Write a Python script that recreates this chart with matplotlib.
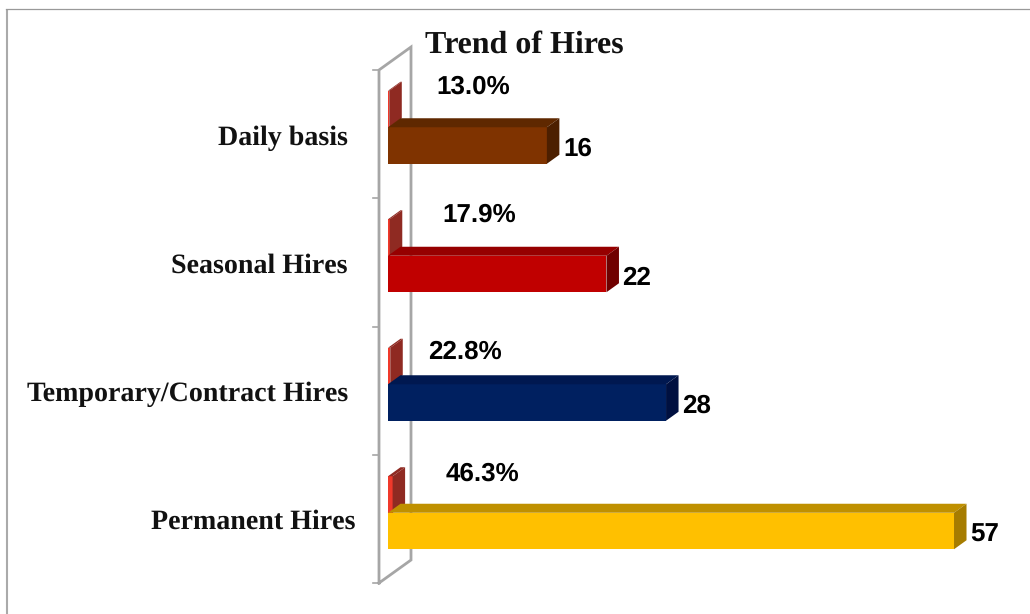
#!/usr/bin/env python3
import matplotlib
matplotlib.use('Agg')
import matplotlib.pyplot as plt
from matplotlib.patches import Polygon
import numpy as np

plt.rcParams['text.hinting'] = 'no_hinting'
plt.rcParams['text.hinting_factor'] = 1

categories = ["Permanent Hires", "Temporary/Contract Hires", "Seasonal Hires", "Daily basis"]
hires = [57, 28, 22, 16]
shares = [46.3, 22.8, 17.9, 13.0]
share_labels = ["46.3%", "22.8%", "17.9%", "13.0%"]

front_colors = ['#ffc000', '#002060', '#c00000', '#7f3300']
top_colors = ['#bf9000', '#001850', '#960000', '#5f2800']
side_colors = ['#a67c00', '#001040', '#700000', '#4c1f00']

# scale of the picture: 9.93 px per hire, 128.5 px between categories
PX_X = 9.93
PX_Y = 128.5
DX = 12.5 / PX_X
DY = 9 / PX_Y
BAR_H = 36.5 / PX_Y
WALL = '#a6a6a6'

fig = plt.figure(figsize=(10.3, 6.14), dpi=100)
ax = fig.add_axes([0, 0, 1, 1])
ax.set_xlim(-388 / PX_X, (1030 - 388) / PX_X)
ax.set_ylim(-(614 - 531) / PX_Y, 531 / PX_Y)
ax.axis('off')

# outer frame, only top and left show
ax.plot([0.0068, 0.0068], [0, 0.985], transform=ax.transAxes, color='#aaaaaa', lw=1.5, solid_capstyle='butt')
ax.plot([0.0055, 1], [0.985, 0.985], transform=ax.transAxes, color='#999999', lw=0.9)

# the 3D wall with its ticks
wall_l, wall_r = -9 / PX_X, 23 / PX_X
wall_low = -52 / PX_Y
wall_high = wall_low + 4 * 128.25 / PX_Y
wall_back = 23 / PX_Y
ax.plot([wall_l, wall_l, wall_r, wall_r, wall_l],
        [wall_low, wall_high, wall_high + wall_back, wall_low + wall_back, wall_low],
        color=WALL, lw=2, solid_joinstyle='miter', zorder=1)
for t in np.linspace(wall_low, wall_high, 5):
    ax.plot([wall_l - 6 / PX_X, wall_l], [t, t], color=WALL, lw=1.2, zorder=1)


def box(x, y, w, front, top, side, z):
    ax.barh(y, w, height=BAR_H, left=x, color=front, zorder=z)
    ax.add_patch(Polygon([(x, y + BAR_H / 2), (x + DX, y + BAR_H / 2 + DY),
                          (x + w + DX, y + BAR_H / 2 + DY), (x + w, y + BAR_H / 2)],
                         closed=True, color=top, lw=0, zorder=z))
    ax.add_patch(Polygon([(x + w, y - BAR_H / 2), (x + w + DX, y - BAR_H / 2 + DY),
                          (x + w + DX, y + BAR_H / 2 + DY), (x + w, y + BAR_H / 2)],
                         closed=True, color=side, lw=0, zorder=z))


pos = np.arange(len(categories))
for i in pos:
    # the share series is drawn on the same axis, so it is just a sliver
    box(0, i + BAR_H, shares[i] / 100, '#f0392b', '#8f2a22', '#8f2a22', 2)
    box(0, i, hires[i], front_colors[i], top_colors[i], side_colors[i], 3)

serif = 'Liberation Serif'
sans = 'Liberation Sans'
cat_x = [-33, -40, -40, -40]
cat_y = [9, 8, 8, 7]
share_off = [(94, 57), (77, 50), (91, 59), (85, 59)]
for i in pos:
    ax.annotate(categories[i], xy=(0, i), xytext=(cat_x[i], cat_y[i]), textcoords='offset pixels',
                ha='right', va='center', family=serif, weight='bold', fontsize=19.8, color='#111111')
    ax.annotate(str(hires[i]), xy=(hires[i], i), xytext=(16, -4), textcoords='offset pixels',
                ha='left', va='center', family=sans, weight='bold', fontsize=18.5, color='black')
    ax.annotate(share_labels[i], xy=(0, i), xytext=share_off[i], textcoords='offset pixels',
                ha='center', va='center', family=sans, weight='bold', fontsize=18.5, color='black')

ax.text(524 / 1030, 1 - 45 / 614, "Trend of Hires", transform=ax.transAxes, ha='center', va='center',
        family=serif, weight='bold', fontsize=22.8, color='#111111')

fig.savefig('out.png', dpi=100)
